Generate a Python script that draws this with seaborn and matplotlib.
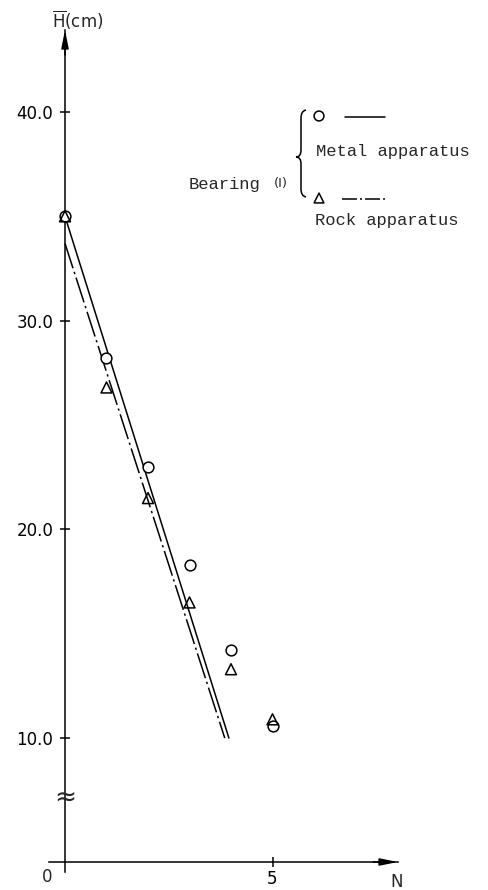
import matplotlib
matplotlib.use("Agg")
import matplotlib.pyplot as plt
from matplotlib.path import Path
from matplotlib.patches import PathPatch
import seaborn as sns
import pandas as pd

# Measured mean height H (cm) against number of passes N
n_values = [0, 1, 2, 3, 4, 5]
h_metal = [35.0, 28.2, 23.0, 18.3, 14.2, 10.6]
h_rock = [35.0, 26.8, 21.5, 16.5, 13.3, 10.9]

# Straight-line fits (end points)
fit_metal_n = [0.0, 3.95]
fit_metal_h = [35.0, 10.0]
fit_rock_n = [0.0, 3.85]
fit_rock_h = [33.7, 10.0]

y_ticks = [10.0, 20.0, 30.0, 40.0]
y_tick_labels = ["10.0", "20.0", "30.0", "40.0"]
x_ticks = [5]
x_tick_labels = ["5"]

sns.set_theme(style="white")
plt.rcParams["font.family"] = ["DejaVu Sans"]
plt.rcParams["mathtext.fontset"] = "dejavusans"

W, H = 488, 890
fig = plt.figure(figsize=(W / 100, H / 100), dpi=100)
ax = fig.add_axes([0, 0, 1, 1])

# pixel <-> data helpers for the frame layout
X0_PX, X_SCALE = 65.0, 41.5
Y40_PX, Y_SCALE = 112.0, 20.87


def dx(px):
    return (px - X0_PX) / X_SCALE


def dy(py):
    return 40.0 - (py - Y40_PX) / Y_SCALE


ax.set_xlim(dx(0), dx(W))
ax.set_ylim(dy(H), dy(0))

y_base = dy(862)     # level of the N axis (broken scale, reads 0)
y_top = dy(30)

df_metal = pd.DataFrame({"N": n_values, "H": h_metal})
df_rock = pd.DataFrame({"N": n_values, "H": h_rock})

sns.lineplot(x=fit_metal_n, y=fit_metal_h, ax=ax, color="black", lw=1.1)
sns.lineplot(x=fit_rock_n, y=fit_rock_h, ax=ax, color="black", lw=1.1,
             linestyle=(0, (17, 2.5, 1.5, 2.5)))
sns.scatterplot(data=df_metal, x="N", y="H", ax=ax, marker="o", s=60,
                facecolor="white", edgecolor="black", linewidth=1.1, zorder=4)
sns.scatterplot(data=df_rock, x="N", y="H", ax=ax, marker="^", s=62,
                facecolor="none", edgecolor="black", linewidth=1.1, zorder=5)

# Axes drawn as crossing spines with arrow heads
for side in ["top", "right"]:
    ax.spines[side].set_visible(False)
ax.spines["left"].set_position(("data", 0))
ax.spines["bottom"].set_position(("data", y_base))
ax.spines["left"].set_bounds(dy(872), y_top)
ax.spines["bottom"].set_bounds(dx(49), dx(398))
for side in ["left", "bottom"]:
    ax.spines[side].set_color("black")
    ax.spines[side].set_linewidth(1.1)

ax.annotate("", xy=(0, y_top), xytext=(0, y_top - 1.2),
            arrowprops=dict(arrowstyle="-|>,head_length=0.9,head_width=0.18",
                            color="black", lw=1.1, shrinkA=0, shrinkB=0))
ax.annotate("", xy=(dx(398), y_base), xytext=(dx(398) - 0.6, y_base),
            arrowprops=dict(arrowstyle="-|>,head_length=0.9,head_width=0.18",
                            color="black", lw=1.1, shrinkA=0, shrinkB=0))

ax.set_yticks(y_ticks)
ax.set_yticklabels(y_tick_labels)
ax.set_xticks(x_ticks)
ax.set_xticklabels(x_tick_labels)
ax.tick_params(axis="both", direction="inout", length=7, width=1.1,
               colors="black", labelsize=12, left=True, bottom=True)
ax.tick_params(axis="y", pad=5)
ax.tick_params(axis="x", pad=2)
ax.set_xlabel("")
ax.set_ylabel("")
ax.grid(False)

ax.text(dx(47), dy(877), "0", fontsize=12, ha="center", va="center")
ax.text(dx(397), dy(882), "N", fontsize=12, ha="center", va="center")
ax.text(dx(52), dy(20), r"$\overline{\mathsf{H}}$(cm)", fontsize=12,
        ha="left", va="center")
# scale break on the H axis
ax.text(0, dy(798), "≈", fontsize=19, ha="center", va="center")

# Legend block
mono = "Liberation Mono"
ax.scatter([dx(319)], [dy(116)], marker="o", s=50, facecolor="none",
           edgecolor="black", linewidth=1.1)
ax.plot([dx(345), dx(385)], [dy(117), dy(117)], color="black", lw=1.1)
ax.text(dx(316), dy(152), "Metal apparatus", fontsize=12.3, family=mono,
        ha="left", va="center")
ax.scatter([dx(319)], [dy(198)], marker="^", s=50, facecolor="none",
           edgecolor="black", linewidth=1.1)
ax.plot([dx(342), dx(385)], [dy(199), dy(199)], color="black", lw=1.1,
        linestyle=(0, (9.8, 2, 1.3, 2)))
ax.text(dx(315), dy(221), "Rock apparatus", fontsize=12.3, family=mono,
        ha="left", va="center")
ax.text(dx(189), dy(185), "Bearing", fontsize=12.3, family=mono,
        ha="left", va="center")
ax.text(dx(274), dy(184), "(I)", fontsize=9.5, ha="left", va="center")

# curly brace grouping the two entries
pts_px = [(306, 110), (301, 111), (301, 118),
          (301, 150), (301, 157), (296, 157),
          (301, 157), (301, 164),
          (301, 189), (301, 196), (306, 197)]
codes = [Path.MOVETO, Path.CURVE3, Path.CURVE3,
         Path.LINETO, Path.CURVE3, Path.CURVE3,
         Path.CURVE3, Path.CURVE3,
         Path.LINETO, Path.CURVE3, Path.CURVE3]
brace = Path([(dx(px), dy(py)) for px, py in pts_px], codes)
ax.add_patch(PathPatch(brace, facecolor="none", edgecolor="black", lw=1.1))

fig.savefig("out.png", dpi=100)
